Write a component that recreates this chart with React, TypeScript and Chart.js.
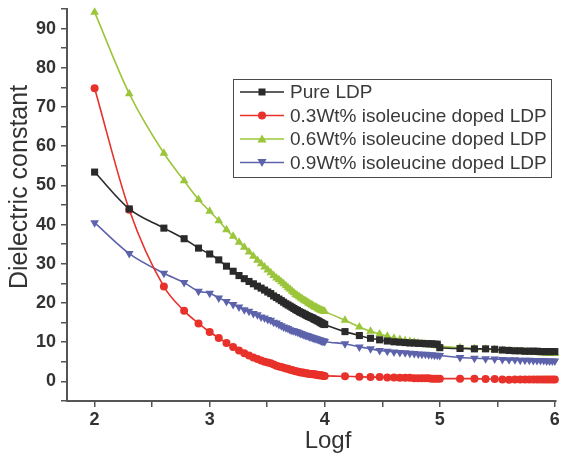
import React, { useEffect, useRef } from 'react';
import { Chart, registerables } from 'chart.js';

Chart.register(...registerables);

// log10 of frequency (Hz)
const logf = [
  2, 2.301, 2.602, 2.778, 2.903, 3.0,
  3.079, 3.146, 3.204, 3.255, 3.301, 3.342, 3.38, 3.415, 3.447, 3.477,
  3.505, 3.531, 3.556, 3.58, 3.602, 3.623, 3.643, 3.663, 3.681, 3.699,
  3.716, 3.732, 3.748, 3.763, 3.778, 3.792, 3.806, 3.82, 3.833, 3.845,
  3.857, 3.869, 3.881, 3.892, 3.903, 3.914, 3.924, 3.934, 3.944, 3.954,
  3.964, 3.973, 3.982, 3.991, 4.0,
  4.176, 4.301, 4.398, 4.477, 4.544, 4.602, 4.653, 4.699, 4.74, 4.778, 4.813, 4.845, 4.875, 4.903, 4.929, 4.954, 4.978, 5.0,
  5.176, 5.301, 5.398, 5.477, 5.544, 5.602, 5.653, 5.699, 5.74, 5.778, 5.813, 5.845, 5.875, 5.903, 5.929, 5.954, 5.978, 6.0,
];

const pureLDP = [
  53.4, 44.0, 39.1, 36.4, 34.0, 32.5,
  31.0, 29.4, 28.1, 27.0, 26.2, 25.5, 24.9, 24.3, 23.8, 23.3,
  22.8, 22.4, 21.8, 21.4, 21.0, 20.6, 20.2, 19.8, 19.5, 19.2,
  18.9, 18.6, 18.3, 18.1, 17.8, 17.6, 17.4, 17.2, 17.0, 16.8,
  16.6, 16.5, 16.3, 16.2, 16.0, 15.8, 15.7, 15.5, 15.4, 15.2,
  15.0, 14.9, 14.7, 14.6, 14.5,
  12.7, 11.7, 11.0, 10.6, 10.3, 10.1, 10.0, 9.9, 9.8, 9.8, 9.7, 9.7, 9.6, 9.6, 9.6, 9.5, 9.5, 8.6,
  8.4, 8.3, 8.3, 8.2, 8.0, 7.9, 7.8, 7.8, 7.7, 7.7, 7.7, 7.7, 7.6, 7.6, 7.6, 7.6, 7.6, 7.6,
];

const doped03 = [
  74.8, 43.8, 24.2, 18.0, 14.8, 12.6,
  11.1, 9.8, 8.8, 7.9, 7.2, 6.6, 6.1, 5.7, 5.3, 5.0,
  4.8, 4.6, 4.3, 4.0, 3.8, 3.7, 3.5, 3.3, 3.2, 3.0,
  2.9, 2.7, 2.6, 2.5, 2.4, 2.3, 2.3, 2.2, 2.1, 2.0,
  2.0, 1.9, 1.9, 1.8, 1.8, 1.8, 1.7, 1.7, 1.6, 1.6,
  1.6, 1.5, 1.5, 1.4, 1.4,
  1.3, 1.2, 1.1, 1.1, 1.0, 1.0, 0.9, 0.9, 0.9, 0.8, 0.8, 0.8, 0.8, 0.8, 0.7, 0.7, 0.7, 0.7,
  0.7, 0.7, 0.6, 0.6, 0.5, 0.4, 0.5, 0.5, 0.5, 0.5, 0.5, 0.5, 0.5, 0.5, 0.5, 0.5, 0.5, 0.5,
];

const doped06 = [
  94.2, 73.4, 58.2, 51.2, 46.4, 43.4,
  41.0, 38.7, 37.0, 35.5, 34.2, 33.0, 31.9, 30.9, 30.0, 29.2,
  28.4, 27.7, 27.0, 26.4, 25.9, 25.4, 24.9, 24.4, 23.9, 23.5,
  23.0, 22.6, 22.2, 21.9, 21.6, 21.3, 21.0, 20.7, 20.5, 20.3,
  20.0, 19.8, 19.6, 19.4, 19.2, 19.0, 18.9, 18.7, 18.5, 18.4,
  18.2, 18.1, 18.0, 17.9, 17.8,
  15.6, 13.9, 12.8, 12.1, 11.5, 11.0, 10.7, 10.4, 10.2, 10.0, 9.8, 9.6, 9.5, 9.4, 9.3, 9.2, 9.1, 9.0,
  8.6, 8.4, 8.2, 8.1, 7.9, 7.8, 7.7, 7.6, 7.5, 7.5, 7.4, 7.4, 7.3, 7.3, 7.2, 7.2, 7.1, 7.1,
];

const doped09 = [
  40.5, 32.6, 27.6, 25.2, 23.0, 22.5,
  21.3, 20.4, 19.6, 19.0, 18.3, 17.9, 17.3, 17.0, 16.4, 16.2,
  15.8, 15.6, 15.1, 14.9, 14.5, 14.2, 13.9, 13.7, 13.5, 13.2,
  13.0, 12.9, 12.7, 12.6, 12.4, 12.2, 12.1, 11.9, 11.8, 11.7,
  11.6, 11.4, 11.3, 11.2, 11.1, 11.0, 10.9, 10.8, 10.7, 10.6,
  10.5, 10.4, 10.3, 10.3, 10.2,
  9.6, 8.8, 8.3, 7.9, 7.7, 7.5, 7.4, 7.3, 7.2, 7.1, 7.0, 6.9, 6.9, 6.8, 6.8, 6.7, 6.7, 6.6,
  6.1, 5.9, 5.8, 5.7, 5.6, 5.5, 5.5, 5.4, 5.4, 5.4, 5.3, 5.3, 5.3, 5.3, 5.2, 5.2, 5.2, 5.2,
];

const seriesLabels = [
  'Pure LDP',
  '0.3Wt% isoleucine doped LDP',
  '0.6Wt% isoleucine doped LDP',
  '0.9Wt% isoleucine doped LDP',
];
const seriesValues = [pureLDP, doped03, doped06, doped09];
const seriesColors = ['#2a2a2a', '#e8312a', '#9bc63b', '#5d63ab'];
const seriesMarkers = ['square', 'circle', 'triangleUp', 'triangleDown'];

const xTitle = 'Logf';
const yTitle = 'Dielectric constant';

const FONT = '"Liberation Sans", Arial, sans-serif';

function drawMarker(ctx: CanvasRenderingContext2D, kind: string, x: number, y: number, color: string) {
  ctx.fillStyle = color;
  ctx.beginPath();
  if (kind === 'square') {
    ctx.rect(x - 3.5, y - 3.5, 7, 7);
  } else if (kind === 'circle') {
    ctx.arc(x, y, 4, 0, Math.PI * 2);
  } else if (kind === 'triangleUp') {
    ctx.moveTo(x, y - 4.5);
    ctx.lineTo(x - 4.6, y + 3.5);
    ctx.lineTo(x + 4.6, y + 3.5);
    ctx.closePath();
  } else {
    ctx.moveTo(x, y + 4.5);
    ctx.lineTo(x - 4.6, y - 3.5);
    ctx.lineTo(x + 4.6, y - 3.5);
    ctx.closePath();
  }
  ctx.fill();
}

const boxLegend = {
  id: 'boxLegend',
  afterDatasetsDraw(chart: any) {
    const ctx: CanvasRenderingContext2D = chart.ctx;
    ctx.save();
    const x0 = 233, y0 = 79, w = 318, h = 98;
    ctx.fillStyle = '#ffffff';
    ctx.fillRect(x0, y0, w, h);
    ctx.strokeStyle = '#4a4a4a';
    ctx.lineWidth = 1;
    ctx.strokeRect(x0 + 0.5, y0 + 0.5, w, h);
    chart.data.datasets.forEach((ds: any, i: number) => {
      const y = 92 + i * 23.5;
      ctx.strokeStyle = ds.borderColor;
      ctx.lineWidth = 1.6;
      ctx.beginPath();
      ctx.moveTo(240, y);
      ctx.lineTo(284, y);
      ctx.stroke();
      drawMarker(ctx, seriesMarkers[i], 262, y, ds.borderColor);
      ctx.fillStyle = '#3a3a3a';
      ctx.font = `19px ${FONT}`;
      ctx.textBaseline = 'middle';
      ctx.textAlign = 'left';
      ctx.fillText(ds.label, 290, y + 1);
    });
    ctx.restore();
  },
};

const axisTitles = {
  id: 'axisTitles',
  afterDraw(chart: any) {
    const ctx: CanvasRenderingContext2D = chart.ctx;
    ctx.save();
    ctx.fillStyle = '#333333';
    ctx.font = `24px ${FONT}`;
    ctx.textAlign = 'center';
    ctx.textBaseline = 'alphabetic';
    ctx.fillText(xTitle, 328, 448);
    ctx.translate(27, 187);
    ctx.rotate(-Math.PI / 2);
    ctx.font = `25px ${FONT}`;
    ctx.fillText(yTitle, 0, 0);
    ctx.restore();
  },
};

export default function App() {
  const canvasRef = useRef<HTMLCanvasElement | null>(null);

  useEffect(() => {
    const canvas = canvasRef.current;
    if (!canvas) return;
    const datasets = seriesValues.map((vals, i) => {
      const isTri = seriesMarkers[i].startsWith('triangle');
      return {
        label: seriesLabels[i],
        data: logf.map((x, j) => ({ x, y: vals[j] })),
        borderColor: seriesColors[i],
        backgroundColor: seriesColors[i],
        pointBackgroundColor: seriesColors[i],
        pointBorderColor: seriesColors[i],
        pointBorderWidth: 0,
        borderWidth: 1.6,
        pointStyle: seriesMarkers[i] === 'square' ? 'rect' : isTri ? 'triangle' : 'circle',
        pointRotation: seriesMarkers[i] === 'triangleDown' ? 180 : 0,
        pointRadius: seriesMarkers[i] === 'square' ? 5 : isTri ? 5 : 4,
        cubicInterpolationMode: 'monotone' as const,
        fill: false,
        clip: 6,
      };
    });

    const tickFont = { family: FONT, size: 18, weight: 'bold' as const };
    const chart = new Chart(canvas, {
      type: 'line',
      data: { datasets },
      plugins: [boxLegend, axisTitles],
      options: {
        animation: false,
        responsive: false,
        maintainAspectRatio: false,
        layout: { padding: { top: 9, right: 4, left: 0, bottom: 0 } },
        plugins: { legend: { display: false }, tooltip: { enabled: false }, title: { display: false } },
        scales: {
          x: {
            type: 'linear',
            min: 1.76,
            max: 6.01,
            border: { display: true, color: '#555555', width: 2 },
            grid: { display: true, drawOnChartArea: false, drawTicks: true, tickLength: 6, color: '#555555', lineWidth: 1.5 },
            ticks: {
              stepSize: 0.5,
              includeBounds: false,
              autoSkip: false,
              maxRotation: 0,
              padding: 2,
              color: '#333333',
              font: tickFont,
              callback: (v: any) => (Math.abs(v - Math.round(v)) < 1e-6 ? String(Math.round(v)) : ''),
            },
            afterFit: (scale: any) => {
              scale.height = 55;
              scale.paddingLeft = 0;
              scale.paddingRight = 0;
            },
          },
          y: {
            type: 'linear',
            min: -5,
            max: 95,
            border: { display: true, color: '#555555', width: 2 },
            grid: { display: true, drawOnChartArea: false, drawTicks: true, tickLength: 6, color: '#555555', lineWidth: 1.5 },
            ticks: {
              stepSize: 5,
              autoSkip: false,
              padding: 5,
              color: '#333333',
              font: tickFont,
              callback: (v: any) => (v >= 0 && v % 10 === 0 ? String(v) : ''),
            },
            afterFit: (scale: any) => {
              scale.width = 67;
              scale.paddingTop = 0;
              scale.paddingBottom = 0;
            },
          },
        },
      } as any,
    });
    return () => chart.destroy();
  }, []);

  return (
    <div style={{ position: 'absolute', left: 0, top: 0, width: 561, height: 456, background: '#ffffff' }}>
      <canvas ref={canvasRef} width={561} height={456} style={{ display: 'block', width: 561, height: 456 }} />
    </div>
  );
}
